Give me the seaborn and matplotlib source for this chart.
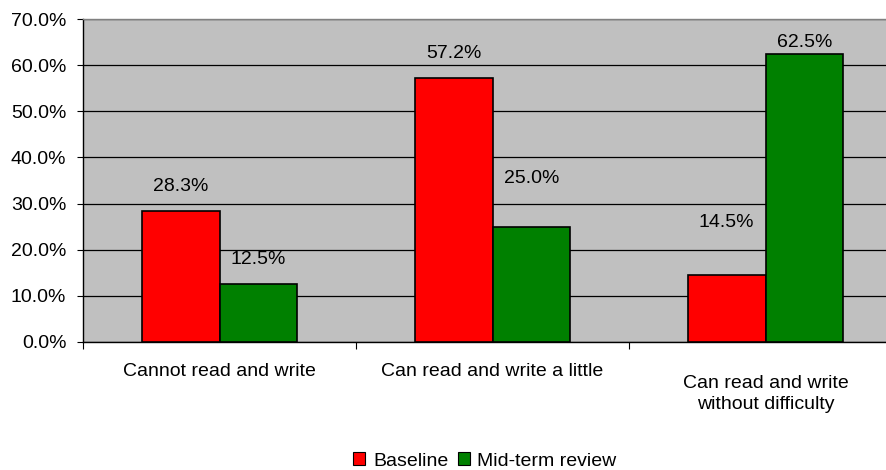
import matplotlib
matplotlib.use("Agg")
import matplotlib.pyplot as plt
import matplotlib.ticker as mticker
import pandas as pd
import seaborn as sns

categories = ["Cannot read and write", "Can read and write a little",
              "Can read and write\nwithout difficulty"]
series = ["Baseline", "Mid-term review"]
baseline = [28.3, 57.2, 14.5]
midterm = [12.5, 25.0, 62.5]
y_ticks = [0, 10, 20, 30, 40, 50, 60, 70]

colors = {"Baseline": "#FF0000", "Mid-term review": "#008000"}

df = pd.DataFrame({
    "category": categories * 2,
    "series": [series[0]] * 3 + [series[1]] * 3,
    "value": baseline + midterm,
})

sns.set_style("white")
plt.rcParams["font.family"] = ["Liberation Sans", "DejaVu Sans"]
plt.rcParams["text.color"] = "black"
plt.rcParams["xtick.color"] = "black"
plt.rcParams["ytick.color"] = "black"
FS = 14

fig = plt.figure(figsize=(8.87, 4.70), dpi=100)
ax = fig.add_axes([83 / 887, 1 - 342 / 470, (902 - 83) / 887, 323 / 470])
ax.set_facecolor("#C0C0C0")

sns.barplot(data=df, x="category", y="value", hue="series", palette=colors,
            width=0.57, gap=0, edgecolor="black", linewidth=1.2,
            saturation=1, ax=ax, legend=False, zorder=3)

ax.set_ylim(0, 70)
ax.set_xlim(-0.5, 2.5)
ax.set_yticks(y_ticks)
ax.yaxis.set_major_formatter(mticker.FuncFormatter(lambda v, p: f"{v:.1f}%"))
ax.grid(axis="y", color="black", linewidth=0.9, zorder=0)
ax.set_axisbelow(True)
ax.tick_params(axis="y", left=True, length=4, width=0.8, labelsize=FS, pad=8)

# category ticks sit on the boundaries between groups
ax.set_xticks([])
ax.set_xticks([-0.5, 0.5, 1.5, 2.5], minor=True)
ax.tick_params(axis="x", which="minor", bottom=True, length=5, width=0.8)
ax.set_xlabel("")
ax.set_ylabel("")

for i, cat in enumerate(categories):
    top = -0.066 if "\n" not in cat else -0.102
    ax.text(i, top, cat, transform=ax.get_xaxis_transform(), ha="center",
            va="top", fontsize=FS, linespacing=1.3)

# data labels (placement follows the original)
label_pos = [[33.6, 62.6, 25.8], [17.8, 35.5, 64.8]]
vals = [baseline, midterm]
for s, container in enumerate(ax.containers):
    for j, bar in enumerate(container):
        ax.text(bar.get_x() + bar.get_width() / 2, label_pos[s][j],
                f"{vals[s][j]:.1f}%", ha="center", va="center", fontsize=FS)

for side in ["left", "bottom"]:
    ax.spines[side].set_color("black")
    ax.spines[side].set_linewidth(1.0)
ax.spines["top"].set_color("#808080")
ax.spines["top"].set_linewidth(1.0)
ax.spines["right"].set_visible(False)

handles = [plt.Rectangle((0, 0), 1, 1, facecolor=colors[s], edgecolor="black",
                         linewidth=0.8) for s in series]
fig.legend(handles, series, loc="center", bbox_to_anchor=(485 / 887, 1 - 461 / 470),
           ncol=2, frameon=False, fontsize=FS, handlelength=0.6, handleheight=0.6,
           handletextpad=0.4, columnspacing=0.5, borderpad=0)

fig.savefig("out.png", dpi=100)
